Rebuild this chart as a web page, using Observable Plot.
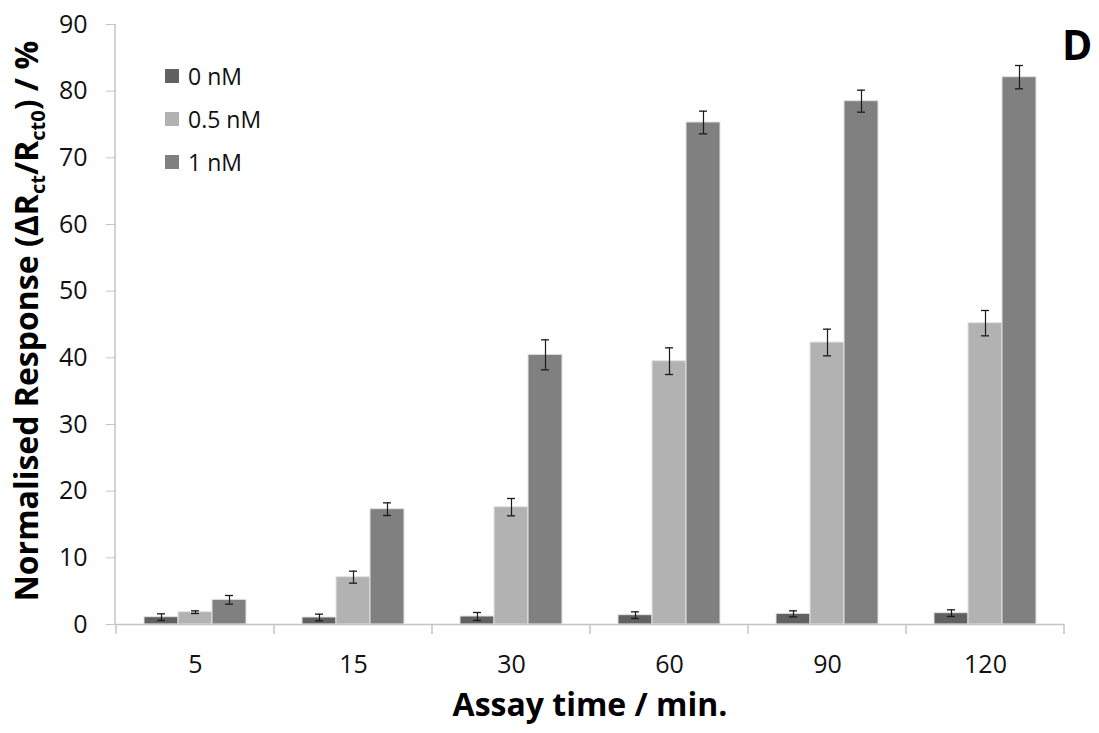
<!DOCTYPE html>
<html><head><meta charset="utf-8">
<script src="https://cdn.jsdelivr.net/npm/d3@7"></script>
<script src="https://cdn.jsdelivr.net/npm/@observablehq/plot@0.6"></script>
<style>
body{margin:0;background:#fff;font-family:"Open Sans",sans-serif}
#wrap{position:relative;width:1099px;height:733px;overflow:hidden}
#legend{position:absolute;left:165px;top:54px;font-size:23px;color:#111}
#legend .row{display:flex;align-items:center;height:43px}
#legend .sw{width:14px;height:14px;margin-right:9px}
#panel{position:absolute;left:1062px;top:16px;font-size:41px;font-weight:bold;color:#000}
</style></head><body>
<div id="wrap"></div>
<script>
const times = ["5","15","30","60","90","120"];
const series = ["0 nM","0.5 nM","1 nM"];
const colors = ["#616161","#b2b2b2","#808080"];
const yTicks = [0,10,20,30,40,50,60,70,80,90];
const v0  = [1.1, 1.05, 1.2, 1.4, 1.6, 1.7];
const e0  = [0.5, 0.5, 0.6, 0.5, 0.45, 0.5];
const v05 = [1.85, 7.1, 17.6, 39.5, 42.3, 45.2];
const e05 = [0.2, 0.9, 1.3, 2.0, 2.0, 1.9];
const v1  = [3.7, 17.3, 40.45, 75.3, 78.5, 82.1];
const e1  = [0.65, 0.95, 2.25, 1.7, 1.65, 1.75];

const vals = [v0, v05, v1], errs = [e0, e05, e1];
const rows = times.flatMap((t, i) => series.map((s, j) => ({time: t, series: s, value: vals[j][i], err: errs[j][i]})));

const plot = Plot.plot({
  width: 1099, height: 733,
  marginLeft: 115, marginRight: 34, marginTop: 24, marginBottom: 109,
  style: {fontFamily: "'Open Sans', sans-serif", fontSize: "25px", color: "#111", background: "#fff", overflow: "visible"},
  fx: {domain: times, padding: 0, label: null},
  x: {domain: series, paddingInner: 0, paddingOuter: 0.76, axis: null},
  y: {domain: [0, 90], label: null},
  color: {domain: series, range: colors},
  marks: [
    Plot.barY(rows, {fx: "time", x: "series", y: "value", fill: "series", stroke: "#e4e4e4", strokeWidth: 1, inset: 0}),
    Plot.ruleY([0], {stroke: "#c4c4c4", strokeWidth: 1.5}),
    Plot.ruleX(rows, {fx: "time", x: "series", y1: d => d.value - d.err, y2: d => d.value + d.err, stroke: "#1a1a1a", strokeWidth: 1.2}),
    Plot.tickY(rows, {fx: "time", x: "series", y: d => d.value + d.err, stroke: "#1a1a1a", strokeWidth: 1.3, insetLeft: 13, insetRight: 13}),
    Plot.tickY(rows, {fx: "time", x: "series", y: d => d.value - d.err, stroke: "#1a1a1a", strokeWidth: 1.3, insetLeft: 13, insetRight: 13}),
    Plot.axisY({ticks: yTicks, tickSize: 10, tickPadding: 19, stroke: "#c4c4c4", label: null, fontSize: 25}),
    Plot.axisFx({anchor: "bottom", tickSize: 0, tickPadding: 31, label: null, fontSize: 25})
  ]
});

const svg = d3.select(plot);
const fx = plot.scale("fx"), y = plot.scale("y");
const y0 = y.apply(0), yTop = y.apply(90);
const left = fx.range[0], right = fx.range[1];
// y axis line
svg.append("line").attr("x1", left).attr("x2", left).attr("y1", yTop).attr("y2", y0)
  .attr("stroke", "#c4c4c4").attr("stroke-width", 1.5);
// category boundary ticks
const bounds = times.map(t => fx.apply(t)).concat([fx.apply(times[times.length-1]) + fx.bandwidth]);
svg.append("g").selectAll("line").data(bounds).join("line")
  .attr("x1", d => d).attr("x2", d => d).attr("y1", y0).attr("y2", y0 + 10)
  .attr("stroke", "#c4c4c4").attr("stroke-width", 1.5);
// axis titles
svg.append("text").attr("x", (left + right) / 2).attr("y", 716)
  .attr("text-anchor", "middle").attr("font-size", 32).attr("font-weight", "bold").attr("fill", "#000")
  .text("Assay time / min.");
const yt = svg.append("text").attr("transform", `translate(38,${(yTop + y0) / 2 - 3}) rotate(-90)`)
  .attr("text-anchor", "middle").attr("font-size", 32).attr("font-weight", "bold").attr("fill", "#000");
yt.append("tspan").text("Normalised Response (ΔR");
yt.append("tspan").attr("font-size", 20).attr("dy", 7).text("ct");
yt.append("tspan").attr("dy", -7).text("/R");
yt.append("tspan").attr("font-size", 20).attr("dy", 7).text("ct0");
yt.append("tspan").attr("dy", -7).text(") / %");

const wrap = document.getElementById("wrap");
wrap.appendChild(plot);
const lg = document.createElement("div");
lg.id = "legend";
series.forEach((s, i) => {
  const r = document.createElement("div"); r.className = "row";
  const sw = document.createElement("div"); sw.className = "sw"; sw.style.background = colors[i];
  const tx = document.createElement("span"); tx.textContent = s;
  r.appendChild(sw); r.appendChild(tx); lg.appendChild(r);
});
wrap.appendChild(lg);
const pd = document.createElement("div"); pd.id = "panel"; pd.textContent = "D";
wrap.appendChild(pd);
</script>
</body></html>
